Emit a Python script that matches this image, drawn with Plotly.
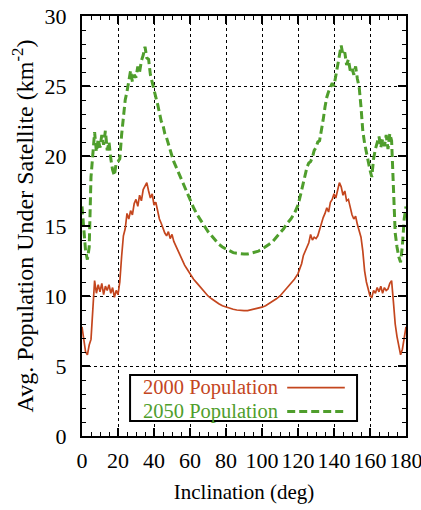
import plotly.graph_objects as go

# Inclination (deg)
incl = list(range(0, 61)) + list(range(62, 120, 2)) + list(range(120, 181))

pop2000 = [
    7.8, 7.0, 6.0, 5.8, 6.5, 6.9, 9.5, 11.1, 10.2, 10.8,
    10.3, 10.9, 10.1, 10.7, 10.4, 10.8, 10.2, 10.6, 9.9, 10.4,
    10.1, 11.0, 12.8, 14.3, 14.8, 15.9, 15.5, 16.1, 15.8, 16.6,
    16.9, 16.4, 17.2, 16.8, 17.6, 17.9, 18.1, 17.5, 17.0, 17.3,
    16.5, 16.7, 16.0, 15.5, 15.2, 14.8, 14.5, 14.3, 14.6, 14.1,
    14.4, 13.9, 13.6, 13.3, 13.0, 12.7, 12.5, 12.2, 12.0, 11.8,
    11.6,
    11.2, 10.9, 10.6, 10.3, 10.0, 9.8, 9.6, 9.45, 9.3, 9.2,
    9.1, 9.05, 9.0, 8.95, 8.95, 8.95, 9.0, 9.05, 9.1, 9.2,
    9.3, 9.45, 9.6, 9.8, 10.0, 10.3, 10.6, 10.9, 11.2,
    11.6, 11.9, 12.3, 12.9, 13.2, 13.5, 13.8, 14.4, 14.0, 14.2,
    14.1, 14.3, 14.8, 15.2, 15.6, 15.9, 16.3, 16.0, 16.7, 16.9,
    17.3, 17.0, 17.6, 18.1, 17.8, 17.2, 17.5, 16.8, 16.9, 16.3,
    15.8, 15.5, 15.7, 15.1, 14.7, 14.2, 13.2, 11.8, 11.0, 10.5,
    10.0, 9.9, 10.4, 10.2, 10.6, 10.3, 10.7, 10.2, 10.6, 10.4,
    10.5, 10.9, 11.1, 9.6, 8.0, 7.1, 6.3, 5.8, 6.2, 7.1,
    7.8,
]

pop2050 = [
    16.4, 14.8, 13.2, 12.6, 13.5, 18.5, 20.5, 21.7, 20.3, 21.2,
    20.6, 21.5, 20.8, 21.8, 20.4, 21.0, 19.8, 19.0, 18.6, 19.5,
    19.6, 19.8, 21.5, 23.0, 24.0, 24.6, 25.4, 26.1, 25.3, 25.8,
    25.6, 26.4, 26.0, 26.8, 27.2, 27.8, 27.0, 26.9, 25.8, 25.2,
    24.8, 24.2, 23.7, 23.0, 22.5, 22.2, 21.6, 21.3, 20.8, 20.4,
    20.0, 19.6, 19.3, 19.0, 18.7, 18.3, 18.0, 17.7, 17.4, 17.1,
    16.8,
    16.3, 15.8, 15.4, 15.0, 14.6, 14.3, 14.0, 13.7, 13.5, 13.35,
    13.2, 13.1, 13.05, 13.0, 13.0, 13.0, 13.05, 13.1, 13.2, 13.35,
    13.5, 13.7, 13.9, 14.2, 14.5, 14.8, 15.2, 15.5, 15.9,
    16.5, 17.0, 17.6, 18.2, 18.8, 19.2, 19.5, 19.6, 19.9, 20.4,
    20.6, 21.0, 21.1, 21.8, 22.6, 23.5, 24.2, 24.6, 24.9, 25.2,
    25.0, 25.8, 26.6, 27.3, 27.9, 27.2, 27.4, 26.5, 26.9, 26.1,
    26.3, 25.8, 26.4, 25.5, 24.9, 23.5, 21.8, 20.9, 20.2, 19.6,
    19.0, 18.5, 19.8, 20.5, 20.9, 21.4, 20.6, 21.2, 20.7, 21.5,
    20.5, 21.6, 21.1, 17.0, 14.5, 13.5, 12.8, 12.4, 13.6, 15.5,
    16.4,
]

x_ticks = [0, 20, 40, 60, 80, 100, 120, 140, 160, 180]
y_ticks = [0, 5, 10, 15, 20, 25, 30]
names = ["2000 Population", "2050 Population"]

RED = "#c4461e"
GREEN = "#4f9e2c"
FONT = "Liberation Serif"
DASH = "8px,4px"

fig = go.Figure()
fig.add_trace(go.Scatter(x=incl, y=pop2000, mode="lines", name=names[0],
                         line=dict(color=RED, width=1.7)))
fig.add_trace(go.Scatter(x=incl, y=pop2050, mode="lines", name=names[1],
                         line=dict(color=GREEN, width=3, dash=DASH)))

axis_common = dict(
    showline=True, linecolor="black", linewidth=2, mirror="allticks",
    ticks="inside", ticklen=8, tickwidth=1.5, tickcolor="black",
    showgrid=True, gridcolor="black", griddash="dot", gridwidth=1,
    zeroline=False, tickfont=dict(family=FONT, size=22, color="black"),
    ticklabeloverflow="allow", tickangle=0,
)

fig.update_xaxes(**axis_common, range=[0, 180], tickvals=x_ticks,
                 minor=dict(dtick=5, ticks="inside", ticklen=4, tickwidth=1.2,
                            tickcolor="black", showgrid=False),
                 ticklabelstandoff=4,
                 title=dict(text="Inclination (deg)", standoff=12,
                            font=dict(family=FONT, size=21, color="black")))
fig.update_yaxes(**axis_common, range=[0, 30], tickvals=y_ticks,
                 minor=dict(dtick=1, ticks="inside", ticklen=4, tickwidth=1.2,
                            tickcolor="black", showgrid=False),
                 ticklabelstandoff=9,
                 title=dict(text="Avg. Population Under Satellite (km<sup>-2</sup>)",
                            standoff=4,
                            font=dict(family=FONT, size=24, color="black")))

# custom legend (text left, line sample right), boxed
fig.add_shape(type="rect", xref="x", yref="y", x0=26.7, x1=152.8, y0=1.07, y1=4.36,
              line=dict(color="black", width=2), fillcolor="white", layer="above")
fig.add_annotation(xref="x", yref="y", x=33.0, y=3.45, text=names[0], showarrow=False,
                   xanchor="left", font=dict(family=FONT, size=20.5, color=RED))
fig.add_annotation(xref="x", yref="y", x=33.0, y=1.75, text=names[1], showarrow=False,
                   xanchor="left", font=dict(family=FONT, size=20.5, color=GREEN))
fig.add_shape(type="line", xref="x", yref="y", x0=114, x1=146, y0=3.45, y1=3.45,
              line=dict(color=RED, width=1.7), layer="above")
fig.add_shape(type="line", xref="x", yref="y", x0=114, x1=146, y0=1.75, y1=1.75,
              line=dict(color=GREEN, width=3, dash=DASH), layer="above")

fig.update_layout(
    width=421, height=510,
    margin=dict(l=82, r=15, t=16, b=74, autoexpand=False),
    paper_bgcolor="white", plot_bgcolor="white",
    showlegend=False,
    font=dict(family=FONT, color="black"),
)

fig.write_html("out.html")
